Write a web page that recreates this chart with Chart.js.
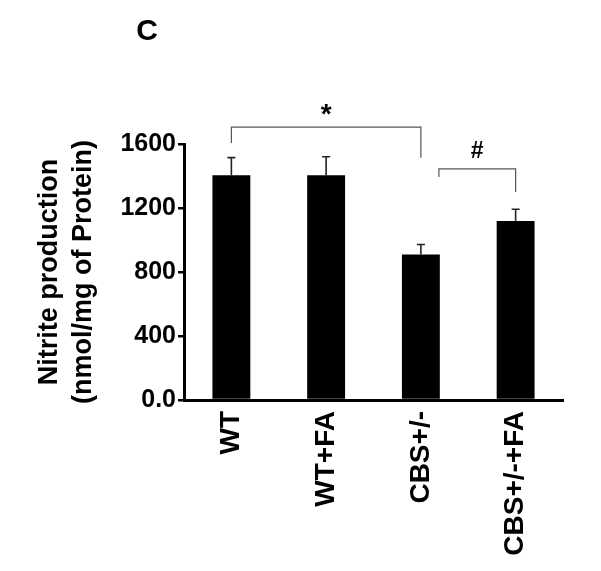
<!DOCTYPE html>
<html>
<head>
<meta charset="utf-8">
<script src="https://cdn.jsdelivr.net/npm/chart.js@4.4.1/dist/chart.umd.min.js"></script>
<style>
  html, body { margin: 0; padding: 0; background: #fff; }
  #wrap { width: 601px; height: 571px; position: relative; }
</style>
</head>
<body>
<div id="wrap"><canvas id="chart" width="601" height="571"></canvas></div>
<script>
// --- data ---
const groups = ['WT', 'WT+FA', 'CBS+/-', 'CBS+/-+FA'];
const meanValues = [1405, 1405, 910, 1118];
const semValues = [110, 115, 62, 74];
const yTicks = [0, 400, 800, 1200, 1600];
const panelLetter = 'C';

// significance brackets: [from index, to index, bar height, left leg end, right leg end, symbol]
const bracketFrom = [0, 2];
const bracketTo = [2, 3];
const bracketTop = [1706, 1444];
const bracketLeftEnd = [1606, 1394];
const bracketRightEnd = [1514, 1300];
const bracketMark = ['*', '#'];

const FONT = "'Liberation Sans', Arial, sans-serif";

const errorBars = {
  id: 'errorBars',
  afterDatasetsDraw(chart) {
    const ctx = chart.ctx;
    const y = chart.scales.y;
    const meta = chart.getDatasetMeta(0);
    ctx.save();
    ctx.strokeStyle = '#222';
    ctx.lineWidth = 1.6;
    meta.data.forEach((bar, i) => {
      const top = y.getPixelForValue(meanValues[i] + semValues[i]);
      ctx.beginPath();
      ctx.moveTo(bar.x, bar.y);
      ctx.lineTo(bar.x, top);
      ctx.moveTo(bar.x - 4, top);
      ctx.lineTo(bar.x + 4, top);
      ctx.stroke();
    });
    ctx.restore();
  }
};

const annotations = {
  id: 'annotations',
  afterDraw(chart) {
    const ctx = chart.ctx;
    const x = chart.scales.x;
    const y = chart.scales.y;
    ctx.save();
    // panel letter
    ctx.fillStyle = '#000';
    ctx.font = `bold 30px ${FONT}`;
    ctx.textAlign = 'center';
    ctx.textBaseline = 'middle';
    ctx.fillText(panelLetter, 147, 32);

    ctx.strokeStyle = '#555';
    ctx.lineWidth = 1.2;
    bracketFrom.forEach((from, k) => {
      let x1 = x.getPixelForValue(from);
      const x2 = x.getPixelForValue(bracketTo[k]);
      if (k === 1) x1 += 18; // second bracket starts right of the bar centre
      const yt = y.getPixelForValue(bracketTop[k]);
      ctx.beginPath();
      ctx.moveTo(x1, y.getPixelForValue(bracketLeftEnd[k]));
      ctx.lineTo(x1, yt);
      ctx.lineTo(x2, yt);
      ctx.lineTo(x2, y.getPixelForValue(bracketRightEnd[k]));
      ctx.stroke();
      ctx.font = `bold ${k === 0 ? 28 : 23}px ${FONT}`;
      ctx.fillText(bracketMark[k], (x1 + x2) / 2, yt - (k === 0 ? 12 : 17));
    });
    ctx.restore();
  }
};

new Chart(document.getElementById('chart'), {
  type: 'bar',
  data: {
    labels: groups,
    datasets: [{
      data: meanValues,
      backgroundColor: '#000',
      borderWidth: 0,
      barPercentage: 0.4,
      categoryPercentage: 1
    }]
  },
  options: {
    responsive: false,
    animation: false,
    layout: { padding: { left: 0, top: 144, right: 38, bottom: 0 } },
    plugins: { legend: { display: false }, tooltip: { enabled: false } },
    scales: {
      x: {
        grid: { display: false },
        border: { display: true, color: '#000', width: 3 },
        ticks: {
          color: '#000',
          font: { family: FONT, size: 28, weight: 'bold' },
          minRotation: 90,
          maxRotation: 90,
          padding: 3
        },
        afterFit(scale) { scale.height = 171; }
      },
      y: {
        min: 0,
        max: 1600,
        afterBuildTicks(scale) { scale.ticks = yTicks.map(v => ({ value: v })); },
        grid: { drawOnChartArea: false, drawTicks: true, tickLength: 6, color: '#000', lineWidth: 2.5 },
        border: { display: true, color: '#000', width: 3 },
        ticks: {
          color: '#000',
          font: { family: FONT, size: 25, weight: 'bold' },
          padding: 2,
          callback: v => v === 0 ? '0.0' : String(v)
        },
        title: {
          display: true,
          text: ['Nitrite production', '(nmol/mg of Protein)'],
          color: '#000',
          font: { family: FONT, size: 27, weight: 'bold', lineHeight: 1.25 },
          padding: { top: 33, bottom: 0 }
        },
        afterFit(scale) { scale.width = 184; }
      }
    }
  },
  plugins: [errorBars, annotations]
});
</script>
</body>
</html>
